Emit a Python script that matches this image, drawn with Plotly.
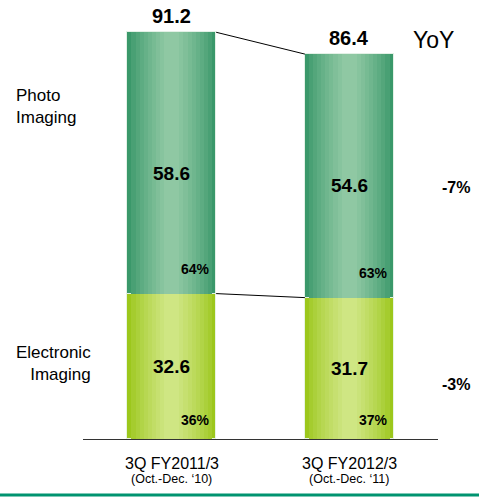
import plotly.graph_objects as go

categories = ["3Q FY2011/3", "3Q FY2012/3"]
periods = ["(Oct.-Dec. \u201810)", "(Oct.-Dec. \u201811)"]
electronic = [32.6, 31.7]
photo = [58.6, 54.6]
totals = [91.2, 86.4]
electronic_share = [36, 37]
photo_share = [64, 63]
yoy_photo = "-7%"
yoy_electronic = "-3%"

xs = [0, 1]
W = 0.5
FONT = "Arial, Liberation Sans, sans-serif"

def mix(c1, c2, t):
    a = [int(c1[i:i+2], 16) for i in (1, 3, 5)]
    b = [int(c2[i:i+2], 16) for i in (1, 3, 5)]
    return "rgb(%d,%d,%d)" % tuple(round(a[i] + (b[i] - a[i]) * t) for i in range(3))

fig = go.Figure()
N = 10
segs = [
    (electronic, [0, 0], "#9cc71c", "#cfe683"),
    (photo, electronic, "#3a986a", "#8fc8a3"),
]
for vals, base, edge, center in segs:
    for k in range(N):
        t = k / (N - 1)
        w = W * (1 - 0.92 * k / N)
        fig.add_trace(go.Bar(
            x=xs, y=vals, base=base, width=w,
            marker=dict(color=mix(edge, center, t ** 0.8),
                        line=dict(width=1 if k == 0 else 0, color="rgba(235,245,235,0.9)")),
            showlegend=False, hoverinfo="skip",
        ))

tops = [e + p for e, p in zip(electronic, photo)]
for i in range(len(xs) - 1):
    fig.add_shape(type="line", xref="x", yref="y",
                  x0=xs[i] + W / 2, y0=tops[i], x1=xs[i + 1] - W / 2, y1=tops[i + 1],
                  line=dict(color="black", width=1))
    fig.add_shape(type="line", xref="x", yref="y",
                  x0=xs[i] + W / 2, y0=electronic[i], x1=xs[i + 1] - W / 2, y1=electronic[i + 1],
                  line=dict(color="black", width=1))

PW, PH, L, B = 355, 439, 83, 58
def px(xp):
    return (xp - L) / PW
def py(yp):
    return (PH - yp) / PH

for i, x in enumerate(xs):
    fig.add_annotation(x=x, y=tops[i], text="<b>%.1f</b>" % totals[i], showarrow=False,
                       yanchor="bottom", yshift=3, font=dict(size=20, color="black", family=FONT))
    fig.add_annotation(x=x, y=electronic[i] / 2, text="<b>%.1f</b>" % electronic[i], showarrow=False,
                       font=dict(size=19, color="black", family=FONT))
    fig.add_annotation(x=x, y=electronic[i] + photo[i] * 0.46, text="<b>%.1f</b>" % photo[i], showarrow=False,
                       font=dict(size=19, color="black", family=FONT))
    fig.add_annotation(x=x, y=0, text="<b>%d%%</b>" % electronic_share[i], showarrow=False, yanchor="bottom",
                       xshift=24, yshift=9, font=dict(size=14, color="black", family=FONT))
    fig.add_annotation(x=x, y=electronic[i], text="<b>%d%%</b>" % photo_share[i], showarrow=False, yanchor="bottom",
                       xshift=24, yshift=15, font=dict(size=14, color="black", family=FONT))
    # category labels
    fig.add_annotation(x=x, xref="x", yref="paper", y=py(463), text=categories[i], showarrow=False,
                       xanchor="center", yanchor="middle", borderpad=0,
                       font=dict(size=16, color="black", family=FONT))
    fig.add_annotation(x=x, xref="x", yref="paper", y=py(479), text=periods[i], showarrow=False,
                       xanchor="center", yanchor="middle", borderpad=0,
                       font=dict(size=12.5, color="black", family=FONT))

fig.add_annotation(xref="paper", yref="paper", x=px(433), y=py(40), text="YoY", showarrow=False,
                   xanchor="center", yanchor="middle", font=dict(size=23, color="black", family=FONT))
fig.add_annotation(xref="paper", yref="paper", x=px(456), y=py(187), text="<b>%s</b>" % yoy_photo,
                   xanchor="center", yanchor="middle",
                   showarrow=False, font=dict(size=16, color="black", family=FONT))
fig.add_annotation(xref="paper", yref="paper", x=px(456), y=py(384), text="<b>%s</b>" % yoy_electronic,
                   xanchor="center", yanchor="middle",
                   showarrow=False, font=dict(size=16, color="black", family=FONT))

fig.add_annotation(xref="paper", yref="paper", x=px(14), y=py(107), text="Photo<br>Imaging",
                   showarrow=False, xanchor="left", yanchor="middle", align="left",
                   font=dict(size=17, color="black", family=FONT))
fig.add_annotation(xref="paper", yref="paper", x=px(93), y=py(363), text="Electronic<br>Imaging",
                   showarrow=False, xanchor="right", yanchor="middle", align="right",
                   font=dict(size=17, color="black", family=FONT))

fig.add_shape(type="line", xref="paper", yref="paper", x0=px(0), x1=px(479), y0=py(495), y1=py(495),
              line=dict(color="#009470", width=3))

fig.update_layout(
    width=479, height=497, barmode="overlay", bargap=0,
    margin=dict(l=L, r=479 - L - PW, t=497 - B - PH, b=B),
    paper_bgcolor="white", plot_bgcolor="white",
    xaxis=dict(range=[-0.5, 1.5], tickvals=xs, showticklabels=False,
               showline=True, linecolor="#333", linewidth=1, ticks="", showgrid=False, zeroline=False),
    yaxis=dict(range=[0, PH / 4.46], visible=False, showgrid=False, zeroline=False),
)

fig.write_html("out.html", config={"displayModeBar": False},
               post_script="document.body.style.margin='0';")
